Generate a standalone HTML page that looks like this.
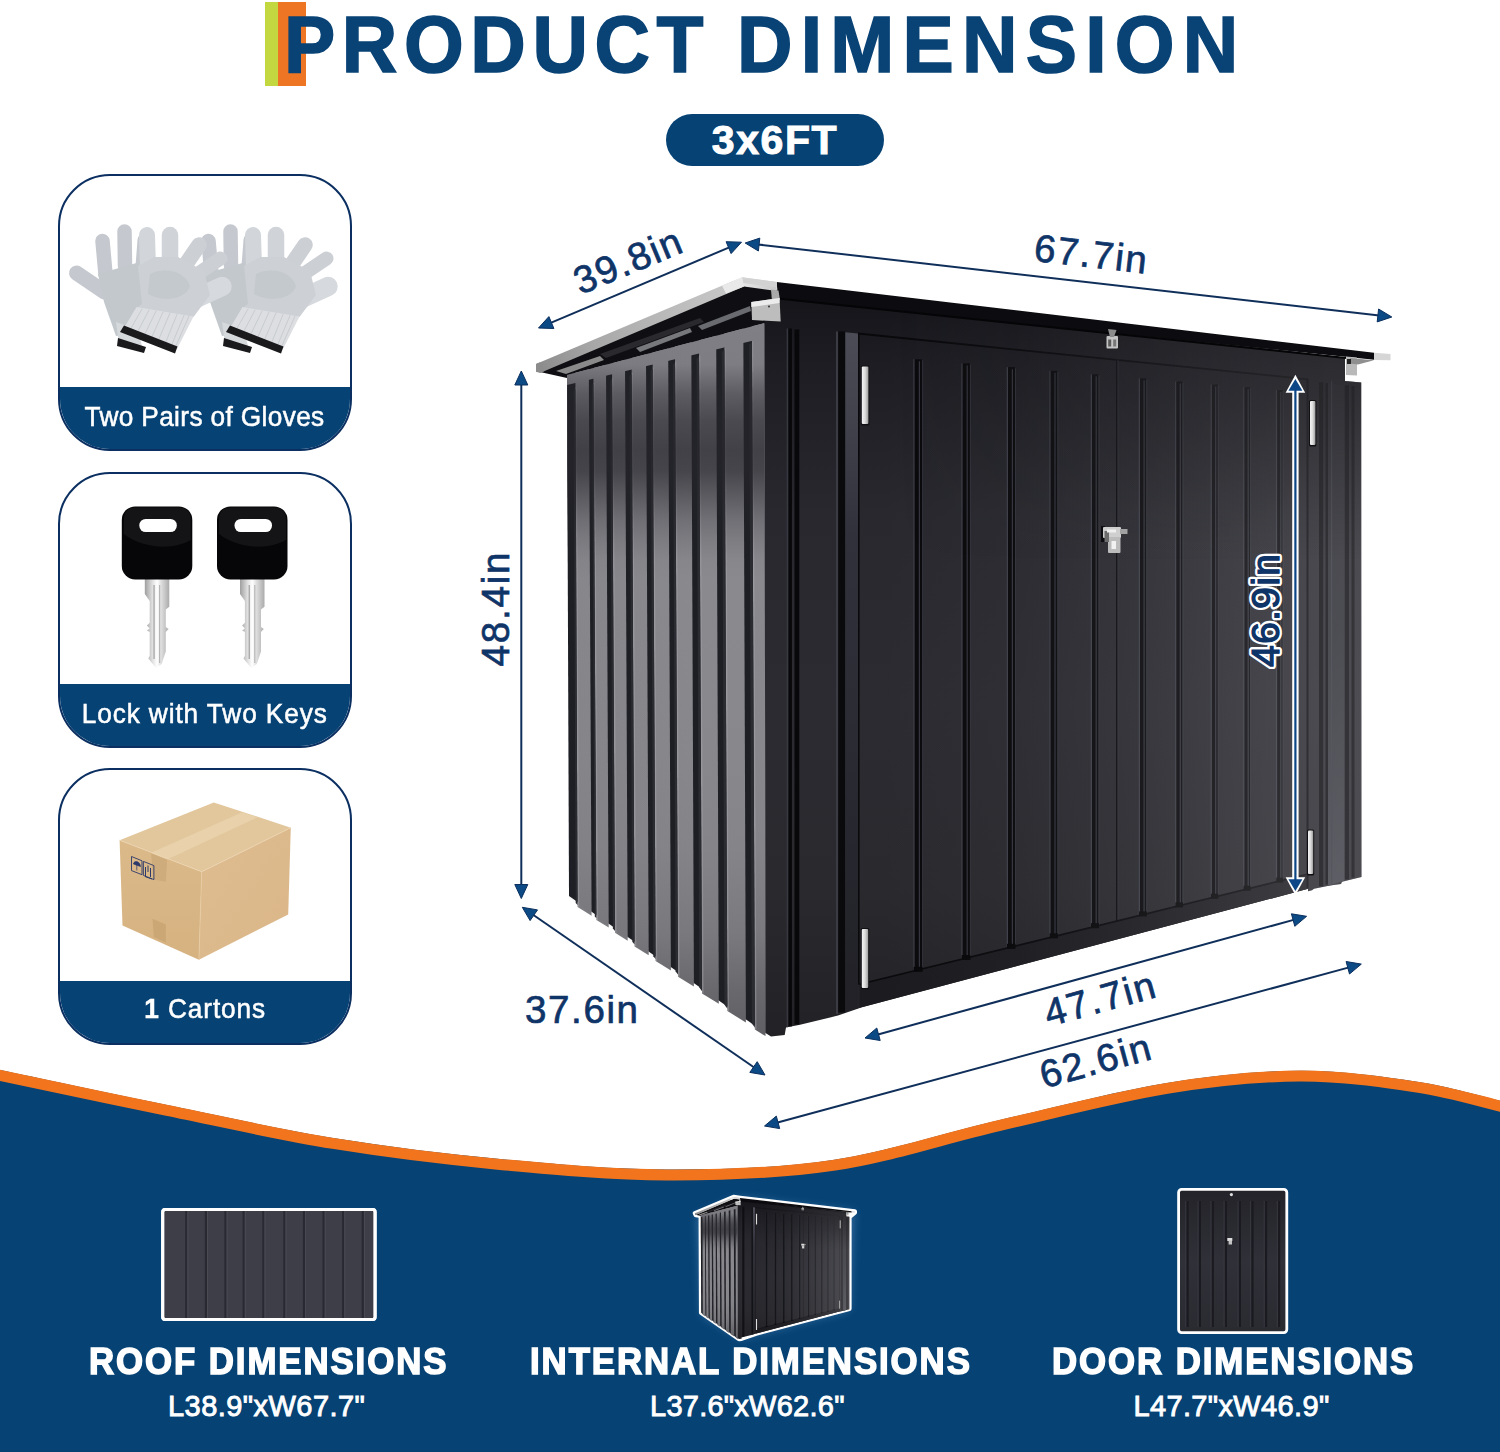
<!DOCTYPE html>
<html><head><meta charset="utf-8"><title>Product Dimension</title>
<style>
html,body{margin:0;padding:0;background:#fff;}
body{width:1500px;height:1452px;position:relative;overflow:hidden;font-family:"Liberation Sans",sans-serif;}
#main{position:absolute;left:0;top:0;}
text{font-family:"Liberation Sans",sans-serif;}
.bar1{position:absolute;left:265px;top:2px;width:14px;height:84px;background:#c3d840;}
.bar2{position:absolute;left:278px;top:2px;width:28px;height:84px;background:#ee7524;}
.t{position:absolute;top:0;height:90px;line-height:90px;font-weight:bold;font-size:80px;color:#094376;white-space:nowrap;transform-origin:0 50%;-webkit-text-stroke:1.6px #094376;}
#t1{left:284px;letter-spacing:6.9px;transform:scaleX(0.96);}
#t2{left:736.8px;letter-spacing:8.6px;transform:scaleX(0.96);}
.pill{position:absolute;left:666px;top:114px;width:218px;height:52px;border-radius:26px;background:#064274;color:#fff;font-weight:bold;font-size:41px;line-height:52px;text-align:center;letter-spacing:1.6px;-webkit-text-stroke:1px #fff;}
.card{position:absolute;left:58px;width:290px;height:272.6px;border:2px solid #0b2f61;border-radius:52px;overflow:hidden;background:#fff;}
.card .ci{position:absolute;left:-2px;top:-2px;}
.card .lbl{position:absolute;left:-2px;right:-2px;bottom:-2px;height:64px;background:#064274;color:#fff;font-size:28.5px;line-height:59px;text-align:center;white-space:nowrap;-webkit-text-stroke:0.55px #fff;letter-spacing:0.3px;}
.card .lbl span{display:inline-block;transform:scaleX(0.92);transform-origin:50% 50%;}
.bt{position:absolute;color:#fff;font-weight:bold;font-size:37px;white-space:nowrap;line-height:40px;top:1342px;-webkit-text-stroke:1.5px #fff;letter-spacing:2.05px;transform:scaleX(0.94);transform-origin:0 50%;}
.bs{position:absolute;color:#fff;font-size:29px;white-space:nowrap;line-height:32px;top:1390px;-webkit-text-stroke:0.9px #fff;letter-spacing:0.45px;transform-origin:0 50%;}
</style></head><body>
<svg id="main" width="1500" height="1452" viewBox="0 0 1500 1452">

<path d="M-20.0,1066.0 C-16.7,1066.7 -31.2,1063.5 0.0,1070.0 C31.2,1076.5 111.5,1093.7 167.0,1105.0 C222.5,1116.3 277.5,1129.0 333.0,1138.0 C388.5,1147.0 444.3,1153.8 500.0,1159.0 C555.7,1164.2 611.5,1169.3 667.0,1169.5 C722.5,1169.7 777.5,1168.2 833.0,1160.0 C888.5,1151.8 944.3,1132.8 1000.0,1120.0 C1055.7,1107.2 1117.0,1091.2 1167.0,1083.0 C1217.0,1074.8 1258.3,1070.9 1300.0,1070.7 C1341.7,1070.5 1383.7,1076.7 1417.0,1081.7 C1450.3,1086.7 1482.8,1096.7 1500.0,1100.7 C1517.2,1104.8 1516.7,1105.1 1520.0,1106.0 L1520,1460 L-20,1460 Z" fill="#064274"/>
<path d="M-20.0,1066.0 C-16.7,1066.7 -31.2,1063.5 0.0,1070.0 C31.2,1076.5 111.5,1093.7 167.0,1105.0 C222.5,1116.3 277.5,1129.0 333.0,1138.0 C388.5,1147.0 444.3,1153.8 500.0,1159.0 C555.7,1164.2 611.5,1169.3 667.0,1169.5 C722.5,1169.7 777.5,1168.2 833.0,1160.0 C888.5,1151.8 944.3,1132.8 1000.0,1120.0 C1055.7,1107.2 1117.0,1091.2 1167.0,1083.0 C1217.0,1074.8 1258.3,1070.9 1300.0,1070.7 C1341.7,1070.5 1383.7,1076.7 1417.0,1081.7 C1450.3,1086.7 1482.8,1096.7 1500.0,1100.7 C1517.2,1104.8 1516.7,1105.1 1520.0,1106.0" fill="none" stroke="#f2751d" stroke-width="11" transform="translate(0,5.4)"/>

<g id="shedg">
<defs>
<linearGradient id="gSide" gradientUnits="userSpaceOnUse" x1="0" y1="330" x2="0" y2="1040">
<stop offset="0" stop-color="#8a898f"/><stop offset="0.38" stop-color="#8a898e"/><stop offset="0.6" stop-color="#88878c"/><stop offset="0.73" stop-color="#858489"/><stop offset="0.85" stop-color="#7a797e"/><stop offset="0.93" stop-color="#69686d"/><stop offset="1" stop-color="#5f5e63"/>
</linearGradient>
<linearGradient id="gShade" gradientUnits="userSpaceOnUse" x1="0" y1="320" x2="0" y2="580">
<stop offset="0" stop-color="#25252b" stop-opacity="0.1"/><stop offset="0.17" stop-color="#25252b" stop-opacity="0.12"/><stop offset="0.285" stop-color="#25252b" stop-opacity="0.45"/><stop offset="0.385" stop-color="#25252b" stop-opacity="0.63"/><stop offset="0.5" stop-color="#25252b" stop-opacity="0.72"/><stop offset="0.58" stop-color="#25252b" stop-opacity="0.68"/><stop offset="0.69" stop-color="#25252b" stop-opacity="0.43"/><stop offset="0.77" stop-color="#25252b" stop-opacity="0.25"/><stop offset="0.85" stop-color="#25252b" stop-opacity="0.12"/><stop offset="0.92" stop-color="#25252b" stop-opacity="0.03"/><stop offset="1" stop-color="#25252b" stop-opacity="0"/>
</linearGradient>
<linearGradient id="gShadeL" gradientUnits="userSpaceOnUse" x1="567" y1="0" x2="720" y2="0">
<stop offset="0" stop-color="#202128" stop-opacity="0.03"/><stop offset="1" stop-color="#202128" stop-opacity="0"/>
</linearGradient>
<linearGradient id="gFront" gradientUnits="userSpaceOnUse" x1="0" y1="290" x2="0" y2="1040">
<stop offset="0" stop-color="#141419"/><stop offset="0.1" stop-color="#1d1d23"/><stop offset="0.3" stop-color="#28282e"/><stop offset="0.55" stop-color="#2b2b31"/><stop offset="0.8" stop-color="#29292e"/><stop offset="1" stop-color="#222226"/>
</linearGradient>
<linearGradient id="gSilver" x1="0" y1="0" x2="1" y2="0">
<stop offset="0" stop-color="#f4f4f4"/><stop offset="0.5" stop-color="#dcdcdc"/><stop offset="1" stop-color="#9c9c9c"/>
</linearGradient>
<linearGradient id="gSilverL" gradientUnits="userSpaceOnUse" x1="536" y1="370" x2="778" y2="285">
<stop offset="0" stop-color="#8a8a8a"/><stop offset="0.25" stop-color="#a8a8a8"/><stop offset="0.6" stop-color="#bcbcbc"/><stop offset="0.84" stop-color="#c8c8c8"/><stop offset="0.86" stop-color="#eaeaea"/><stop offset="1" stop-color="#c6c6c6"/>
</linearGradient>
<linearGradient id="gPostR" gradientUnits="userSpaceOnUse" x1="0" y1="380" x2="0" y2="880"><stop offset="0" stop-color="#222228"/><stop offset="0.5" stop-color="#2c2c33"/><stop offset="1" stop-color="#43444b"/></linearGradient>
<linearGradient id="gFrameL" gradientUnits="userSpaceOnUse" x1="0" y1="332" x2="0" y2="1010"><stop offset="0" stop-color="#4b4c56"/><stop offset="0.13" stop-color="#41424c"/><stop offset="0.3" stop-color="#30313a"/><stop offset="0.6" stop-color="#2a2b33"/><stop offset="1" stop-color="#212127"/></linearGradient>
<linearGradient id="gFrontH" gradientUnits="userSpaceOnUse" x1="880" y1="0" x2="1340" y2="0"><stop offset="0" stop-color="#a2a2a8" stop-opacity="0"/><stop offset="0.3" stop-color="#a2a2a8" stop-opacity="0.03"/><stop offset="0.55" stop-color="#a2a2a8" stop-opacity="0.1"/><stop offset="0.8" stop-color="#a2a2a8" stop-opacity="0.2"/><stop offset="1" stop-color="#a2a2a8" stop-opacity="0.28"/></linearGradient><linearGradient id="gFrontT" gradientUnits="userSpaceOnUse" x1="0" y1="330" x2="0" y2="560"><stop offset="0" stop-color="#17171b" stop-opacity="0.6"/><stop offset="0.35" stop-color="#17171b" stop-opacity="0.4"/><stop offset="1" stop-color="#17171b" stop-opacity="0"/></linearGradient>
<linearGradient id="gMaskH" gradientUnits="userSpaceOnUse" x1="900" y1="0" x2="1340" y2="0"><stop offset="0" stop-color="#000"/><stop offset="1" stop-color="#fff"/></linearGradient><mask id="mH" maskUnits="userSpaceOnUse" x="850" y="300" width="520" height="300"><rect x="850" y="300" width="520" height="300" fill="url(#gMaskH)"/></mask>
</defs>
<polygon points="540,372 744,285 778,290 766,324 567,378" fill="#0f0f13"/>
<polygon points="636,348 690,328 692,332 640,352" fill="#77787c"/><polygon points="600,354 700,318 704,322 606,358" fill="#3a3b41" opacity="0.6"/>
<polygon points="698,326 750,306 751,311 702,330" fill="#6a6b70"/>
<polygon points="556,371 600,356 604,360 566,374" fill="#8a8a8a"/>
<polygon points="567.0,375.0 764.5,323.0 765.5,1033.1 569.0,896.1" fill="#1e1f25"/>
<polygon points="575.4,372.8 588.8,369.3 591.6,915.7 577.6,907.0" fill="url(#gSide)"/>
<polygon points="575.4,387.8 576.8,387.8 579.2,907.0 577.6,907.0" fill="#b4b5bb" opacity="0.35"/>
<polygon points="593.4,368.0 606.0,364.7 608.7,927.5 596.4,919.9" fill="url(#gSide)"/>
<polygon points="593.4,383.0 594.8,383.0 598.0,919.9 596.4,919.9" fill="#b4b5bb" opacity="0.35"/>
<polygon points="612.0,363.2 625.0,359.7 627.7,940.7 615.0,932.8" fill="url(#gSide)"/>
<polygon points="612.0,378.2 613.4,378.2 616.6,932.8 615.0,932.8" fill="#b4b5bb" opacity="0.35"/>
<polygon points="631.6,358.0 646.0,354.2 648.7,955.2 634.6,946.5" fill="url(#gSide)"/>
<polygon points="631.6,373.0 633.0,373.0 636.2,946.5 634.6,946.5" fill="#b4b5bb" opacity="0.35"/>
<polygon points="652.6,352.5 668.2,348.4 670.9,970.6 655.6,961.1" fill="url(#gSide)"/>
<polygon points="652.6,367.5 654.0,367.5 657.2,961.1 655.6,961.1" fill="#b4b5bb" opacity="0.35"/>
<polygon points="675.0,346.6 691.3,342.3 693.9,986.6 678.0,976.7" fill="url(#gSide)"/>
<polygon points="675.0,361.6 676.4,361.6 679.6,976.7 678.0,976.7" fill="#b4b5bb" opacity="0.35"/>
<polygon points="699.0,340.2 716.2,335.7 718.8,1003.8 702.0,993.4" fill="url(#gSide)"/>
<polygon points="699.0,355.2 700.4,355.2 703.6,993.4 702.0,993.4" fill="#b4b5bb" opacity="0.35"/>
<polygon points="724.4,333.6 743.3,328.6 745.9,1022.5 727.4,1011.1" fill="url(#gSide)"/>
<polygon points="724.4,348.6 725.8,348.6 729.0,1011.1 727.4,1011.1" fill="#b4b5bb" opacity="0.35"/>
<polygon points="751.9,326.3 764.5,323.0 765.5,1036.1 754.9,1029.6" fill="url(#gSide)"/>
<polygon points="751.9,341.3 753.3,341.3 756.5,1029.6 754.9,1029.6" fill="#b4b5bb" opacity="0.35"/>
<polygon points="567.0,375.0 764.5,323.0 764.5,338.0 567.0,385.0" fill="url(#gSide)"/>
<polygon points="573.6,390.2 575.4,388.8 577.6,905.0 575.7,903.0" fill="#2b2c32"/>
<polygon points="591.9,385.3 593.4,384.0 596.4,918.0 594.8,916.7" fill="#2b2c32"/>
<polygon points="610.1,380.7 612.0,379.2 615.0,930.9 612.9,928.5" fill="#2b2c32"/>
<polygon points="629.5,375.7 631.6,374.0 634.6,944.5 632.3,941.7" fill="#2b2c32"/>
<polygon points="650.5,370.2 652.6,368.5 655.6,959.0 653.3,956.2" fill="#2b2c32"/>
<polygon points="672.8,364.4 675.0,362.6 678.0,974.5 675.6,971.6" fill="#2b2c32"/>
<polygon points="696.5,358.3 699.0,356.2 702.0,991.2 699.3,987.6" fill="#2b2c32"/>
<polygon points="721.8,351.7 724.4,349.6 727.4,1008.7 724.5,1004.8" fill="#2b2c32"/>
<polygon points="749.1,344.6 751.9,342.3 754.9,1027.8 751.9,1023.5" fill="#2b2c32"/>
<polygon points="567.0,375.0 764.5,323.0 764.5,582 567.0,582" fill="url(#gShade)"/>
<polygon points="567.0,375.0 720,334.7 720,1004.6 569.0,898.1" fill="url(#gShadeL)"/>
<polygon points="764.5,322.5 778,294.0 1345,357.4 1345,381 1361.2,382.5 1361.5,877.1 1342,881.7 1341,884.0 1330,885.4 1314,888.7 1312,890.2 1308,891.3 1308,888.8 862,1007.2 838,1015.6 800,1024.7 786,1027.5 784.7,1035 771,1036.5 765.5,1033" fill="url(#gFront)"/>
<rect x="788.5" y="328.5" width="3.4" height="697.9" fill="#08080b"/>
<rect x="794.5" y="329.5" width="4.8" height="695.0" fill="#08080b"/>
<rect x="786.7" y="328.5" width="1.2" height="698.7" fill="#3a3a43"/>
<rect x="836" y="331.5" width="2.2" height="682.4" fill="#3b3b44"/>
<rect x="838.2" y="331.5" width="7" height="681.0" fill="#0a0a0d"/>
<polygon points="845.3,332.3 858,333.5 858,1008.3 845.3,1011.7" fill="url(#gFrameL)"/>
<rect x="858" y="333.5" width="1.6" height="651.2" fill="#0a0a0d"/>
<polyline points="858,333.5 1308,379.3" stroke="#09090c" stroke-width="1.8" fill="none"/>
<rect x="913.4" y="359.3" width="1.3" height="611.5" fill="#3d3e48"/>
<rect x="914.7" y="359.3" width="7.4" height="612.5" fill="#0a0a0d"/>
<rect x="918.8" y="361.3" width="1.2" height="610.5" fill="#33343d"/>
<rect x="922.1" y="360.3" width="1" height="610.5" fill="#34353e" opacity="0.8"/>
<rect x="961.4" y="363.4" width="1.3" height="595.6" fill="#3d3e48"/>
<rect x="962.7" y="363.4" width="7.2" height="596.6" fill="#0a0a0d"/>
<rect x="966.6" y="365.4" width="1.2" height="594.6" fill="#33343d"/>
<rect x="969.9" y="364.4" width="1" height="594.6" fill="#34353e" opacity="0.8"/>
<rect x="1006.7" y="367.2" width="1.3" height="580.6" fill="#3d3e48"/>
<rect x="1008.0" y="367.2" width="7.0" height="581.6" fill="#0a0a0d"/>
<rect x="1011.8" y="369.2" width="1.2" height="579.6" fill="#33343d"/>
<rect x="1015.0" y="368.2" width="1" height="579.6" fill="#34353e" opacity="0.8"/>
<rect x="1049.4" y="370.8" width="1.3" height="566.5" fill="#3d3e48"/>
<rect x="1050.7" y="370.8" width="6.7" height="567.5" fill="#0a0a0d"/>
<rect x="1054.4" y="372.8" width="1.2" height="565.5" fill="#33343d"/>
<rect x="1057.4" y="371.8" width="1" height="565.5" fill="#34353e" opacity="0.8"/>
<rect x="1090.7" y="374.3" width="1.3" height="552.8" fill="#3d3e48"/>
<rect x="1092.0" y="374.3" width="6.5" height="553.8" fill="#0a0a0d"/>
<rect x="1095.6" y="376.3" width="1.2" height="551.8" fill="#33343d"/>
<rect x="1098.5" y="375.3" width="1" height="551.8" fill="#34353e" opacity="0.8"/>
<rect x="1138.7" y="378.4" width="1.3" height="537.0" fill="#3d3e48"/>
<rect x="1140.0" y="378.4" width="6.3" height="538.0" fill="#0a0a0d"/>
<rect x="1143.5" y="380.4" width="1.2" height="536.0" fill="#33343d"/>
<rect x="1146.3" y="379.4" width="1" height="536.0" fill="#34353e" opacity="0.8"/>
<rect x="1175.1" y="381.5" width="1.3" height="524.9" fill="#3d3e48"/>
<rect x="1176.4" y="381.5" width="6.1" height="525.9" fill="#0a0a0d"/>
<rect x="1179.7" y="383.5" width="1.2" height="523.9" fill="#33343d"/>
<rect x="1182.5" y="382.5" width="1" height="523.9" fill="#34353e" opacity="0.8"/>
<rect x="1210.6" y="384.5" width="1.3" height="513.2" fill="#3d3e48"/>
<rect x="1211.9" y="384.5" width="5.9" height="514.2" fill="#0a0a0d"/>
<rect x="1215.1" y="386.5" width="1.2" height="512.2" fill="#33343d"/>
<rect x="1217.8" y="385.5" width="1" height="512.2" fill="#34353e" opacity="0.8"/>
<rect x="1243.2" y="387.2" width="1.3" height="502.4" fill="#3d3e48"/>
<rect x="1244.5" y="387.2" width="5.6" height="503.4" fill="#0a0a0d"/>
<rect x="1247.6" y="389.2" width="1.2" height="501.4" fill="#33343d"/>
<rect x="1250.1" y="388.2" width="1" height="501.4" fill="#34353e" opacity="0.8"/>
<rect x="1275.9" y="390.0" width="1.3" height="491.6" fill="#3d3e48"/>
<rect x="1277.2" y="390.0" width="5.4" height="492.6" fill="#0a0a0d"/>
<rect x="1280.2" y="392.0" width="1.2" height="490.6" fill="#33343d"/>
<rect x="1282.6" y="391.0" width="1" height="490.6" fill="#34353e" opacity="0.8"/>
<rect x="1116" y="359.4" width="1.5" height="562.6" fill="#0b0b0e"/>
<rect x="1117.5" y="359.4" width="1" height="562.6" fill="#34343c" opacity="0.6"/>
<polygon points="859.6,984.3 1308,874.0 1308,888.8 859.6,1007.8" fill="#1b1b20"/>
<polyline points="859.6,984.3 1308,874.0" stroke="#0a0a0d" stroke-width="1.6" fill="none"/>
<rect x="913.7" y="966.8" width="8.9" height="5" fill="#070709"/>
<rect x="961.7" y="955.0" width="8.7" height="5" fill="#070709"/>
<rect x="1007.0" y="943.8" width="8.5" height="5" fill="#070709"/>
<rect x="1049.7" y="933.3" width="8.2" height="5" fill="#070709"/>
<rect x="1091.0" y="923.2" width="8.0" height="5" fill="#070709"/>
<rect x="1139.0" y="911.4" width="7.8" height="5" fill="#070709"/>
<rect x="1175.4" y="902.4" width="7.6" height="5" fill="#070709"/>
<rect x="1210.9" y="893.7" width="7.4" height="5" fill="#070709"/>
<rect x="1243.5" y="885.7" width="7.1" height="5" fill="#070709"/>
<rect x="1276.2" y="877.6" width="6.9" height="5" fill="#070709"/>
<rect x="1306.5" y="379.1" width="2" height="508.7" fill="#09090c"/>
<rect x="1319" y="382.3" width="4.2" height="504.0" fill="#0a0a0d"/>
<rect x="1325.5" y="383.0" width="2.5" height="501.5" fill="#0a0a0d"/>
<rect x="1344.5" y="385.3" width="4.5" height="494.2" fill="#0a0a0d"/>
<rect x="1351.5" y="386.1" width="3" height="491.5" fill="#0a0a0d"/>
<polygon points="1328,383.3 1344.5,385.3 1344.5,880.5 1328,885.9" fill="url(#gPostR)"/>
<rect x="1331" y="380.7" width="1.2" height="504.4" fill="#3a3a43"/>
<polygon points="764.5,322.5 778,294.0 1345,357.4 1345,381 1361.2,382.5 1361.5,877.1 1342,881.7 1341,884.0 1330,885.4 1314,888.7 1312,890.2 1308,891.3 1308,888.8 862,1007.2 838,1015.6 800,1024.7 786,1027.5 784.7,1035 771,1036.5 765.5,1033" fill="url(#gFrontH)"/>
<polygon points="900,306.5 1345,357.4 1345,381 1361.2,382.5 1361.2,560 900,560" fill="url(#gFrontT)" mask="url(#mH)"/>
<polygon points="776.7,282 1374,352.8 1374,359.8 778,298.5" fill="#0c0c10"/>
<polyline points="778,298.5 1346,358.0" stroke="#050507" stroke-width="2" fill="none"/>
<polygon points="536,364 742,277.3 776.7,282 776.7,291 744,286.5 540.5,372.8 536,371.8" fill="url(#gSilverL)"/>
<polygon points="536,364 540,362.3 544.5,371 540.5,372.8 536,371.8" fill="#8c8c8c"/>
<polygon points="742,277.3 776.7,282 776.7,287.5 743,283" fill="#d2d2d2"/><polygon points="722,285.7 742,277.3 744,286.5 726,293.5" fill="#e9e9e9"/>
<polygon points="771,289.5 778.5,290.5 780,300 772,301" fill="#a9a9a9"/>
<polygon points="751.3,302 779.5,298 780.7,321.5 752,320" fill="#bdbdbd"/><polygon points="751.3,302 779.5,298 779.5,303 751.3,307" fill="#ececec"/><circle cx="769" cy="306.5" r="1" fill="#333"/>
<polygon points="1374,352.7 1390.5,354 1390.5,360.2 1374,360" fill="#d6d6d6"/>
<polygon points="1346,356.5 1357,357.5 1357,375.5 1346,375" fill="#b9b9b9"/><polygon points="1350,358 1374,360.3 1358,364.5 1350,363.5" fill="#8f8f8f"/><rect x="1347" y="359" width="4" height="5" fill="#222"/>
<rect x="860.8" y="365.5" width="8.6" height="60.0" rx="1.5" fill="#101014"/>
<rect x="861.8" y="366.5" width="6.6" height="57.5" rx="1" fill="url(#gSilver)"/>
<rect x="860.8" y="928" width="8.4" height="61.5" rx="1.5" fill="#101014"/>
<rect x="861.8" y="929" width="6.4" height="59" rx="1" fill="url(#gSilver)"/>
<rect x="1309" y="400" width="7.4" height="46.5" rx="1.5" fill="#101014"/>
<rect x="1310" y="401" width="5.4" height="44" rx="1" fill="url(#gSilver)"/>
<rect x="1307" y="829.5" width="7.2" height="46.0" rx="1.5" fill="#101014"/>
<rect x="1308" y="830.5" width="5.2" height="43.5" rx="1" fill="url(#gSilver)"/>
<rect x="1106.5" y="336" width="11.5" height="12.5" rx="1" fill="#c4c4c4"/><polygon points="1108,329 1116.5,330 1114,337 1110,337" fill="#8c8c8c"/><rect x="1108.2" y="339.5" width="3" height="7" fill="#5a5a5a"/><rect x="1113.2" y="339.5" width="3" height="7" fill="#777"/>
<rect x="1101" y="526" width="4" height="16" fill="#0d0d11"/>
<rect x="1103" y="527" width="18" height="11" rx="1" fill="#cfcfcf"/><rect x="1108" y="537" width="12.5" height="16" rx="1" fill="#bcbcbc"/><rect x="1120" y="529" width="7.5" height="5" fill="#a2a2a2"/><rect x="1104.5" y="531" width="4.5" height="11" fill="#6c6c6c"/><rect x="1111.5" y="541" width="4.5" height="8" fill="#f1f1f1"/><rect x="1107" y="529.5" width="9" height="3" fill="#efefef"/>
</g>
<line x1="550.1" y1="323.1" x2="729.9" y2="247.1" stroke="#0f2f5a" stroke-width="2.0"/>
<polygon points="741.5,242.2 731.1,253.6 726.1,241.7" fill="#0c4a85" stroke="#0b2f5e" stroke-width="1" stroke-linejoin="round"/>
<polygon points="538.5,328.0 553.9,328.5 548.9,316.6" fill="#0c4a85" stroke="#0b2f5e" stroke-width="1" stroke-linejoin="round"/>
<line x1="757.7" y1="244.4" x2="1379.3" y2="315.6" stroke="#0f2f5a" stroke-width="2.0"/>
<polygon points="1391.8,317.0 1377.2,321.9 1378.6,309.0" fill="#0c4a85" stroke="#0b2f5e" stroke-width="1" stroke-linejoin="round"/>
<polygon points="745.2,243.0 758.4,251.0 759.8,238.1" fill="#0c4a85" stroke="#0b2f5e" stroke-width="1" stroke-linejoin="round"/>
<line x1="521.3" y1="383.6" x2="521.3" y2="885.9" stroke="#0f2f5a" stroke-width="2.0"/>
<polygon points="521.3,898.5 514.8,884.5 527.8,884.5" fill="#0c4a85" stroke="#0b2f5e" stroke-width="1" stroke-linejoin="round"/>
<polygon points="521.3,371.0 514.8,385.0 527.8,385.0" fill="#0c4a85" stroke="#0b2f5e" stroke-width="1" stroke-linejoin="round"/>
<line x1="532.7" y1="914.5" x2="754.6" y2="1067.8" stroke="#0f2f5a" stroke-width="2.0"/>
<polygon points="765.0,1075.0 749.8,1072.4 757.2,1061.7" fill="#0c4a85" stroke="#0b2f5e" stroke-width="1" stroke-linejoin="round"/>
<polygon points="522.3,907.3 530.1,920.6 537.5,909.9" fill="#0c4a85" stroke="#0b2f5e" stroke-width="1" stroke-linejoin="round"/>
<line x1="877.1" y1="1034.7" x2="1294.5" y2="919.6" stroke="#0f2f5a" stroke-width="2.0"/>
<polygon points="1306.6,916.3 1294.8,926.3 1291.4,913.8" fill="#0c4a85" stroke="#0b2f5e" stroke-width="1" stroke-linejoin="round"/>
<polygon points="865.0,1038.0 880.2,1040.5 876.8,1028.0" fill="#0c4a85" stroke="#0b2f5e" stroke-width="1" stroke-linejoin="round"/>
<line x1="776.7" y1="1122.7" x2="1349.1" y2="967.4" stroke="#0f2f5a" stroke-width="2.0"/>
<polygon points="1361.3,964.1 1349.5,974.0 1346.1,961.5" fill="#0c4a85" stroke="#0b2f5e" stroke-width="1" stroke-linejoin="round"/>
<polygon points="764.5,1126.0 779.7,1128.6 776.3,1116.1" fill="#0c4a85" stroke="#0b2f5e" stroke-width="1" stroke-linejoin="round"/>

<line x1="1295.4" y1="386" x2="1295.4" y2="884" stroke="#fff" stroke-width="6.4"/>
<polygon points="1295.4,374.8 1305.2,392.8 1285.6,392.8" fill="#fff"/>
<polygon points="1295.4,895.2 1305.2,877.2 1285.6,877.2" fill="#fff"/>
<line x1="1295.4" y1="388" x2="1295.4" y2="882" stroke="#0c4686" stroke-width="2.2"/>
<polygon points="1295.4,379 1302.4,390.8 1288.4,390.8" fill="#0c4686"/>
<polygon points="1295.4,891 1302.4,879.2 1288.4,879.2" fill="#0c4686"/>

<text x="627.5" y="260.8" transform="rotate(-22.6 627.5 260.8)" text-anchor="middle" dominant-baseline="central" font-size="38.5" font-weight="normal" fill="#0f3468" textLength="113" lengthAdjust="spacing" stroke="#0f3468" stroke-width="0.7">39.8in</text>
<text x="1090.7" y="253.8" transform="rotate(6.5 1090.7 253.8)" text-anchor="middle" dominant-baseline="central" font-size="38.5" font-weight="normal" fill="#0f3468" textLength="113" lengthAdjust="spacing" stroke="#0f3468" stroke-width="0.7">67.7in</text>
<text x="495.8" y="609.5" transform="rotate(-90 495.8 609.5)" text-anchor="middle" dominant-baseline="central" font-size="38.5" font-weight="normal" fill="#0f3468" textLength="114" lengthAdjust="spacing" stroke="#0f3468" stroke-width="0.7">48.4in</text>
<text x="581.5" y="1009" transform="rotate(0 581.5 1009)" text-anchor="middle" dominant-baseline="central" font-size="38.5" font-weight="normal" fill="#0f3468" textLength="113" lengthAdjust="spacing" stroke="#0f3468" stroke-width="0.7">37.6in</text>
<text x="1099.5" y="998.8" transform="rotate(-15.4 1099.5 998.8)" text-anchor="middle" dominant-baseline="central" font-size="38.5" font-weight="normal" fill="#0f3468" textLength="113" lengthAdjust="spacing" stroke="#0f3468" stroke-width="0.7">47.7in</text>
<text x="1095" y="1060.6" transform="rotate(-15.2 1095 1060.6)" text-anchor="middle" dominant-baseline="central" font-size="38.5" font-weight="normal" fill="#0f3468" textLength="113" lengthAdjust="spacing" stroke="#0f3468" stroke-width="0.7">62.6in</text>
<text x="1264.5" y="610.5" transform="rotate(-90 1264.5 610.5)" text-anchor="middle" dominant-baseline="central" font-size="39.5" font-weight="normal" fill="#0f3468" textLength="113" lengthAdjust="spacing" stroke="#fff" stroke-width="5.8" paint-order="stroke" stroke-linejoin="round">46.9in</text>
<text x="1264.5" y="610.5" transform="rotate(-90 1264.5 610.5)" text-anchor="middle" dominant-baseline="central" font-size="39.5" font-weight="normal" fill="#0f3468" textLength="113" lengthAdjust="spacing" stroke="#0f3468" stroke-width="1.1">46.9in</text>
<rect x="162.7" y="1209.6" width="212.4" height="110" rx="2.5" fill="#3e3e48" stroke="#fff" stroke-width="3"/><rect x="185.2" y="1211" width="2.2" height="107" fill="#292932"/><rect x="187.4" y="1211" width="1" height="107" fill="#4b4b56"/><rect x="204.8" y="1211" width="2.2" height="107" fill="#292932"/><rect x="207.0" y="1211" width="1" height="107" fill="#4b4b56"/><rect x="224.4" y="1211" width="2.2" height="107" fill="#292932"/><rect x="226.6" y="1211" width="1" height="107" fill="#4b4b56"/><rect x="242.6" y="1211" width="2.2" height="107" fill="#292932"/><rect x="244.8" y="1211" width="1" height="107" fill="#4b4b56"/><rect x="262.3" y="1211" width="2.2" height="107" fill="#292932"/><rect x="264.5" y="1211" width="1" height="107" fill="#4b4b56"/><rect x="283.3" y="1211" width="2.2" height="107" fill="#292932"/><rect x="285.5" y="1211" width="1" height="107" fill="#4b4b56"/><rect x="302.9" y="1211" width="2.2" height="107" fill="#292932"/><rect x="305.1" y="1211" width="1" height="107" fill="#4b4b56"/><rect x="322.5" y="1211" width="2.2" height="107" fill="#292932"/><rect x="324.7" y="1211" width="1" height="107" fill="#4b4b56"/><rect x="342.1" y="1211" width="2.2" height="107" fill="#292932"/><rect x="344.3" y="1211" width="1" height="107" fill="#4b4b56"/><rect x="361.7" y="1211" width="2.2" height="107" fill="#292932"/><rect x="363.9" y="1211" width="1" height="107" fill="#4b4b56"/><rect x="162.7" y="1209.6" width="212.4" height="110" rx="2.5" fill="none" stroke="#fff" stroke-width="3"/>
<linearGradient id="gDoorT" x1="0" y1="0" x2="0" y2="1"><stop offset="0" stop-color="#232329"/><stop offset="0.5" stop-color="#303038"/><stop offset="1" stop-color="#2a2a31"/></linearGradient><rect x="1178.6" y="1189.4" width="108.2" height="143.2" rx="3" fill="url(#gDoorT)" stroke="#fff" stroke-width="2.8"/><rect x="1186.3" y="1201" width="2.4" height="126" fill="#1a1a20"/><rect x="1185.3" y="1201" width="1" height="126" fill="#3d3d47" opacity="0.8"/><rect x="1198.6" y="1201" width="2.4" height="126" fill="#1a1a20"/><rect x="1197.6" y="1201" width="1" height="126" fill="#3d3d47" opacity="0.8"/><rect x="1211.5" y="1201" width="2.4" height="126" fill="#1a1a20"/><rect x="1210.5" y="1201" width="1" height="126" fill="#3d3d47" opacity="0.8"/><rect x="1224.6" y="1201" width="2.4" height="126" fill="#1a1a20"/><rect x="1223.6" y="1201" width="1" height="126" fill="#3d3d47" opacity="0.8"/><rect x="1238.6" y="1201" width="2.4" height="126" fill="#1a1a20"/><rect x="1237.6" y="1201" width="1" height="126" fill="#3d3d47" opacity="0.8"/><rect x="1251.2" y="1201" width="2.4" height="126" fill="#1a1a20"/><rect x="1250.2" y="1201" width="1" height="126" fill="#3d3d47" opacity="0.8"/><rect x="1264.7" y="1201" width="2.4" height="126" fill="#1a1a20"/><rect x="1263.7" y="1201" width="1" height="126" fill="#3d3d47" opacity="0.8"/><rect x="1277.8" y="1201" width="2.4" height="126" fill="#1a1a20"/><rect x="1276.8" y="1201" width="1" height="126" fill="#3d3d47" opacity="0.8"/><circle cx="1231.4" cy="1194.6" r="1.6" fill="#ddd"/><rect x="1227.3" y="1238" width="5" height="3" fill="#ddd"/><rect x="1228.6" y="1240.5" width="3.4" height="4" fill="#c4c4c4"/>
<filter id="fglow" x="-20%" y="-20%" width="140%" height="140%"><feGaussianBlur stdDeviation="5"/></filter>
<polygon points="697,1216 738,1198 854,1212 849,1310 741,1338 702,1315" fill="#6f9fd6" opacity="0.45" filter="url(#fglow)"/>
<g transform="translate(594.77,1145.20) scale(0.187)">
<polygon points="536,364 742,277.3 776.7,282 1390.5,354 1390.5,360.2 1361.5,384 1361.5,875 862,1007.2 784.7,1035 771,1036.5 569,896 567,378 541,374" fill="#fff" stroke="#fff" stroke-width="24" stroke-linejoin="round"/>
<use href="#shedg"/></g>
</svg>
<div class="bar1"></div><div class="bar2"></div>
<div class="t" id="t1">PRODUCT</div><div class="t" id="t2">DIMENSION</div>
<div class="pill">3x6FT</div>
<div class="card" style="top:174px"><svg class="ci" viewBox="0 0 294 276" width="294" height="276">
<g transform="translate(106,0)" stroke-linecap="round">
<g stroke="#c5c9cf" fill="none">
<line x1="46.5" y1="118" x2="18.5" y2="99" stroke-width="15"/>
<line x1="47.5" y1="100" x2="44.5" y2="67" stroke-width="14.5"/>
<line x1="67" y1="92" x2="66.5" y2="57.5" stroke-width="14.5"/>
<line x1="84" y1="92" x2="86" y2="66" stroke-width="13"/>
</g>
<polygon points="40,100 82,88 86,132 70,160 58,162 46,128" fill="#c3c8cd"/>
<polygon points="58,148 80,156 84,172 61,170" fill="#d6d9dc"/>
<polygon points="60,164 88,173 86,179 59,172" fill="#1a1a1d"/>
</g><g transform="translate(0,0)" stroke-linecap="round">
<g stroke="#c5c9cf" fill="none">
<line x1="46.5" y1="118" x2="18.5" y2="99" stroke-width="15"/>
<line x1="47.5" y1="100" x2="44.5" y2="67" stroke-width="14.5"/>
<line x1="67" y1="92" x2="66.5" y2="57.5" stroke-width="14.5"/>
<line x1="84" y1="92" x2="86" y2="66" stroke-width="13"/>
</g>
<polygon points="40,100 82,88 86,132 70,160 58,162 46,128" fill="#c3c8cd"/>
<polygon points="58,148 80,156 84,172 61,170" fill="#d6d9dc"/>
<polygon points="60,164 88,173 86,179 59,172" fill="#1a1a1d"/>
</g><g transform="translate(0,0)" stroke-linecap="round">
<g stroke="#ccd0d5" fill="none">
<line x1="138" y1="101" x2="162.5" y2="84.5" stroke-width="14"/>
<line x1="126" y1="93" x2="141" y2="71" stroke-width="15.5"/>
<line x1="112" y1="90" x2="112" y2="61" stroke-width="16.5" stroke="#d0d4d8"/>
<line x1="90" y1="94" x2="89" y2="61" stroke-width="16" stroke="#d2d6da"/>
<line x1="128" y1="129" x2="164" y2="112.5" stroke-width="19.5" stroke="#d6d9dd"/>
</g>
<polygon points="80,92 84,130 78.5,134 135.5,143 152,121 146,97 120,83 96,83" fill="#cdd1d6"/>
<path d="M92,100 C108,92 128,98 132,112 C128,126 104,128 90,120 Z" fill="#c0c5cb" opacity="0.75"/>
<polygon points="78.5,133 135.5,142.5 119,175 66,154" fill="#dcdee1"/>
<g stroke="#c3c6ca" stroke-width="0.8"><line x1="84" y1="135" x2="72" y2="156"/><line x1="91" y1="136" x2="79" y2="159"/><line x1="98" y1="137" x2="86" y2="162"/><line x1="105" y1="138" x2="93" y2="165"/><line x1="112" y1="139" x2="100" y2="167"/><line x1="119" y1="140.5" x2="107" y2="170"/><line x1="126" y1="141.5" x2="113" y2="172.5"/><line x1="131" y1="142" x2="117" y2="174"/></g>
<polygon points="66,151.5 119.5,172.5 117,179.5 62,158" fill="#1a1a1d"/>
</g><g transform="translate(106,0)" stroke-linecap="round">
<g stroke="#ccd0d5" fill="none">
<line x1="138" y1="101" x2="162.5" y2="84.5" stroke-width="14"/>
<line x1="126" y1="93" x2="141" y2="71" stroke-width="15.5"/>
<line x1="112" y1="90" x2="112" y2="61" stroke-width="16.5" stroke="#d0d4d8"/>
<line x1="90" y1="94" x2="89" y2="61" stroke-width="16" stroke="#d2d6da"/>
<line x1="128" y1="129" x2="164" y2="112.5" stroke-width="19.5" stroke="#d6d9dd"/>
</g>
<polygon points="80,92 84,130 78.5,134 135.5,143 152,121 146,97 120,83 96,83" fill="#cdd1d6"/>
<path d="M92,100 C108,92 128,98 132,112 C128,126 104,128 90,120 Z" fill="#c0c5cb" opacity="0.75"/>
<polygon points="78.5,133 135.5,142.5 119,175 66,154" fill="#dcdee1"/>
<g stroke="#c3c6ca" stroke-width="0.8"><line x1="84" y1="135" x2="72" y2="156"/><line x1="91" y1="136" x2="79" y2="159"/><line x1="98" y1="137" x2="86" y2="162"/><line x1="105" y1="138" x2="93" y2="165"/><line x1="112" y1="139" x2="100" y2="167"/><line x1="119" y1="140.5" x2="107" y2="170"/><line x1="126" y1="141.5" x2="113" y2="172.5"/><line x1="131" y1="142" x2="117" y2="174"/></g>
<polygon points="66,151.5 119.5,172.5 117,179.5 62,158" fill="#1a1a1d"/>
</g>
</svg><div class="lbl" style="letter-spacing:0.4px;line-height:59px"><span>Two Pairs of Gloves</span></div></div><div class="card" style="top:471.5px"><svg class="ci" viewBox="0 0 294 276" width="294" height="276">
<defs><linearGradient id="gKey" x1="0" y1="0" x2="1" y2="0"><stop offset="0" stop-color="#9f9f9f"/><stop offset="0.3" stop-color="#dedede"/><stop offset="0.5" stop-color="#ffffff"/><stop offset="0.68" stop-color="#dcdcdc"/><stop offset="1" stop-color="#ababab"/></linearGradient></defs>
<g transform="translate(63.8,0)">
<polygon points="23,107 47.5,107 47.5,134.7 44,137.5 44,155 46.8,157 44,160 44,179.5 39.8,192 34.2,196 26.5,186.5 27.9,183.7 27.9,159.9 25.1,158.5 27.9,156.4 25.1,153.6 27.9,150.8 27.9,129 23,122" fill="url(#gKey)"/>
<rect x="31.6" y="113" width="1.3" height="74" fill="#8e8e8e" opacity="0.75"/><rect x="37.2" y="113" width="1.2" height="78" fill="#9a9a9a" opacity="0.65"/>
<rect x="0" y="34.4" width="70.5" height="73" rx="13.5" fill="#060608"/>
<path d="M2,62 C20,76 50,79 69,68 L69,47 C69,40 64,35.4 58,35.4 L13,35.4 C6,35.4 2,40 2,48 Z" fill="#141416"/>
<rect x="17.5" y="47" width="37.5" height="13" rx="6.3" fill="#fff"/>
</g><g transform="translate(159,0)">
<polygon points="23,107 47.5,107 47.5,134.7 44,137.5 44,155 46.8,157 44,160 44,179.5 39.8,192 34.2,196 26.5,186.5 27.9,183.7 27.9,159.9 25.1,158.5 27.9,156.4 25.1,153.6 27.9,150.8 27.9,129 23,122" fill="url(#gKey)"/>
<rect x="31.6" y="113" width="1.3" height="74" fill="#8e8e8e" opacity="0.75"/><rect x="37.2" y="113" width="1.2" height="78" fill="#9a9a9a" opacity="0.65"/>
<rect x="0" y="34.4" width="70.5" height="73" rx="13.5" fill="#060608"/>
<path d="M2,62 C20,76 50,79 69,68 L69,47 C69,40 64,35.4 58,35.4 L13,35.4 C6,35.4 2,40 2,48 Z" fill="#141416"/>
<rect x="17.5" y="47" width="37.5" height="13" rx="6.3" fill="#fff"/>
</g>
</svg><div class="lbl" style="letter-spacing:0.98px;line-height:59px"><span>Lock with Two Keys</span></div></div><div class="card" style="top:768px"><svg class="ci" viewBox="0 0 294 276" width="294" height="276">
<defs><linearGradient id="gCtL" x1="0" y1="0" x2="0" y2="1"><stop offset="0" stop-color="#dbb988"/><stop offset="1" stop-color="#d6b281"/></linearGradient>
<linearGradient id="gCtR" x1="0" y1="0" x2="1" y2="1"><stop offset="0" stop-color="#dfbd90"/><stop offset="1" stop-color="#dab688"/></linearGradient></defs>
<polygon points="61.6,72.2 155.8,34.4 232.8,59.7 143.7,103.7" fill="#e2c79d"/>
<polygon points="61.6,72.2 143.7,103.7 140.9,191.7 64.5,157.6" fill="url(#gCtL)"/>
<polygon points="143.7,103.7 232.8,59.7 230.2,146.6 140.9,191.7" fill="url(#gCtR)"/>
<polygon points="92.7,85 109.2,91.4 199.5,49.2 183.8,44.4" fill="#ead3ae" opacity="0.85"/>
<polygon points="93.1,85.2 109.2,91.7 107.8,113.7 95.2,111.6" fill="#cfac7c"/>
<polygon points="94.5,150.8 107.8,156.4 107.8,174.6 95.9,169" fill="#cba776"/>
<polyline points="61.6,72.2 143.7,103.7 232.8,59.7" fill="none" stroke="#ecd6b2" stroke-width="0.8"/>
<line x1="143.7" y1="103.7" x2="140.9" y2="191.7" stroke="#e6cba2" stroke-width="0.7"/>
<g fill="none" stroke="#2c3a6b" stroke-width="0.9"><polygon points="73.5,88.5 84,92.8 84,106.7 73.5,102.6"/><polygon points="85.4,93.4 95.9,97.6 95.9,111.6 85.4,107.4"/></g>
<path d="M75.5,96 C76,92 82,93 82.5,98.5 Z M78.8,97 L78.8,102.5" fill="#2c3a6b" stroke="#2c3a6b" stroke-width="0.7"/>
<path d="M87.5,99 L87.5,108 M90,97.5 L90,104 M92.5,100 L92.5,109 M87,108.5 L94,111" fill="none" stroke="#2c3a6b" stroke-width="1"/>
</svg><div class="lbl" style="letter-spacing:0.98px;line-height:55px"><span><b>1</b> Cartons</span></div></div>
<div class="bt" id="b1" style="left:88.5px">ROOF DIMENSIONS</div>
<div class="bs" id="s1" style="left:168px">L38.9"xW67.7"</div>
<div class="bt" id="b2" style="left:529.5px">INTERNAL DIMENSIONS</div>
<div class="bs" id="s2" style="left:650px;letter-spacing:0.25px">L37.6"xW62.6"</div>
<div class="bt" id="b3" style="left:1051.5px">DOOR DIMENSIONS</div>
<div class="bs" id="s3" style="left:1133.5px;letter-spacing:0.35px">L47.7"xW46.9"</div>
</body></html>
